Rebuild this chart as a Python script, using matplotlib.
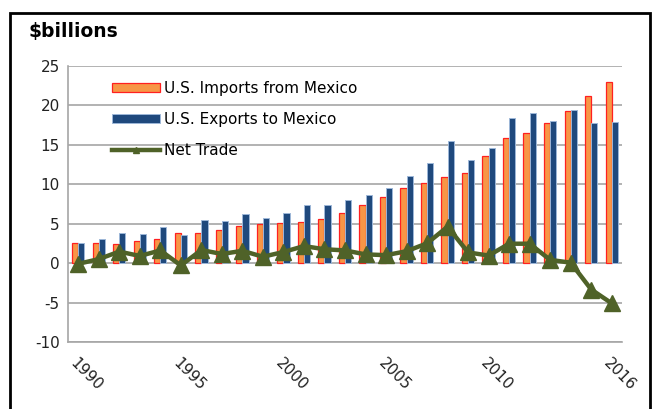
import numpy as np
import matplotlib
matplotlib.use('Agg')
import matplotlib.pyplot as plt
from matplotlib.patches import Rectangle

plt.rcParams['font.family'] = ['DejaVu Sans']
plt.rcParams['axes.unicode_minus'] = False

# 数据：美墨农产品贸易（十亿美元）
years = list(range(1990, 2017))
imports = [2.6, 2.5, 2.4, 2.75, 3.0, 3.85, 3.85, 4.15, 4.7, 4.9, 5.1, 5.25, 5.6, 6.3,
           7.3, 8.4, 9.45, 10.2, 10.95, 11.35, 13.6, 15.8, 16.45, 17.7, 19.25, 21.1, 22.9]
exports = [2.5, 3.1, 3.85, 3.65, 4.6, 3.5, 5.5, 5.3, 6.25, 5.7, 6.4, 7.4, 7.3, 7.95,
           8.6, 9.5, 11.0, 12.7, 15.5, 13.0, 14.6, 18.4, 18.95, 18.05, 19.35, 17.7, 17.85]
net_trade = [-0.1, 0.5, 1.45, 0.9, 1.6, -0.3, 1.65, 1.15, 1.55, 0.8, 1.4, 2.15, 1.75, 1.6,
             1.1, 1.0, 1.5, 2.5, 4.6, 1.35, 0.95, 2.45, 2.45, 0.4, 0.05, -3.35, -5.1]
tick_years = [1990, 1995, 2000, 2005, 2010, 2016]

x = np.arange(len(years))
w = 0.3

fig = plt.figure(figsize=(6.55, 4.09), dpi=100)
ax = fig.add_axes([0.1038, 0.1638, 0.8458, 0.6756])

b1 = ax.bar(x - w / 2, imports, width=w, color='#F79646', edgecolor='#FF2020', linewidth=0.9,
            label='U.S. Imports from Mexico', zorder=2)
b2 = ax.bar(x + w / 2, exports, width=w, color='#1F497D', edgecolor='#9DB7D8', linewidth=0.7,
            label='U.S. Exports to Mexico', zorder=2)
l1, = ax.plot(x, net_trade, color='#4F6228', linewidth=3.2, marker='^', markersize=11,
              label='Net Trade', zorder=3)

ax.set_xlim(-0.5, len(years) - 0.5)
ax.set_ylim(-10, 25)
ax.set_yticks(range(-10, 26, 5))
ax.yaxis.grid(True, color='#A6A6A6', linewidth=1.2, zorder=0)
ax.set_axisbelow(True)

pos = [years.index(y) for y in tick_years]
ax.set_xticks(pos)
ax.set_xticklabels([str(y) for y in tick_years], rotation=-45, ha='left', va='top',
                   rotation_mode='anchor')
ax.tick_params(axis='both', length=0, labelsize=11, colors='#222222')
ax.tick_params(axis='x', pad=10)
ax.tick_params(axis='y', pad=6)

for s in ['top', 'right']:
    ax.spines[s].set_visible(False)
for s in ['left', 'bottom']:
    ax.spines[s].set_color('#A6A6A6')
    ax.spines[s].set_linewidth(1.2)

ax.legend([b1, b2, l1], ['U.S. Imports from Mexico', 'U.S. Exports to Mexico', 'Net Trade'],
          loc='upper left', bbox_to_anchor=(0.055, 0.995), frameon=False, fontsize=11,
          labelspacing=1.05, handlelength=3.1, handleheight=0.55, handletextpad=0.3,
          markerscale=0.45)

fig.text(28 / 655, 1 - 31 / 409, '$billions', fontsize=13.5, fontweight='bold',
         va='center', ha='left')

fig.patches.append(Rectangle((10 / 655, -0.1), 640 / 655, 1.1 - 13 / 409,
                             transform=fig.transFigure, fill=False,
                             edgecolor='black', linewidth=2))

fig.savefig('out.png', dpi=100)
